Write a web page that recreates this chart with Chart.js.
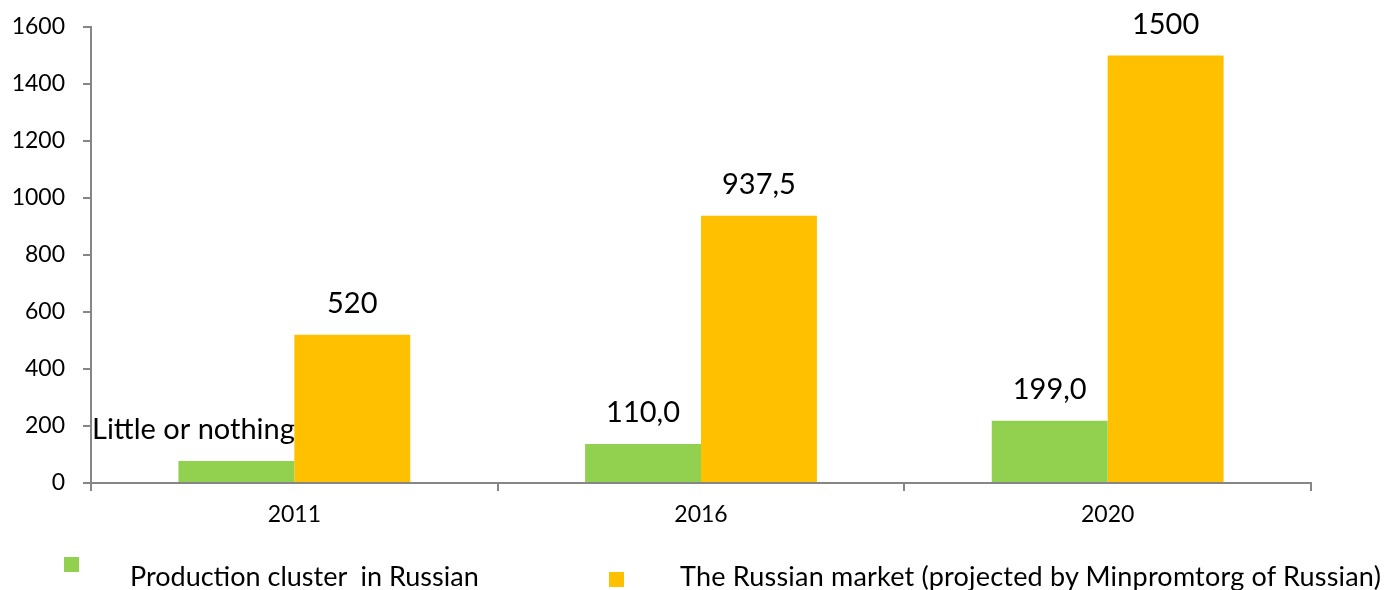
<!DOCTYPE html>
<html><head><meta charset="utf-8">
<script src="https://cdn.jsdelivr.net/npm/chart.js@4/dist/chart.umd.min.js"></script>
<style>
html,body{margin:0;padding:0;background:#fff;}
#wrap{position:relative;width:1385px;height:590px;}
canvas{position:absolute;left:0;top:0;}
.lg{position:absolute;font-family:Lato,"Open Sans",sans-serif;font-size:27px;color:#000;white-space:pre;line-height:1;}
.sq{position:absolute;width:15px;height:15px;}
</style></head>
<body><div id="wrap"><canvas id="c" width="1385" height="590"></canvas>
<div class="sq" style="left:64px;top:557px;background:#92D050"></div>
<div class="lg" style="left:130px;top:562px">Production cluster  in Russian</div>
<div class="sq" style="left:609px;top:572px;background:#FFC000"></div>
<div class="lg" style="left:680px;top:562px;letter-spacing:0.2px">The Russian market (projected by Minpromtorg of Russian)</div>
</div>
<script>
const categories = ['2011', '2016', '2020'];
const production = [77, 137, 218];
const market = [520, 937.5, 1500];
const productionLabels = ['Little or nothing', '110,0', '199,0'];
const marketLabels = ['520', '937,5', '1500'];
const seriesNames = ['Production cluster  in Russian', 'The Russian market (projected by Minpromtorg of Russian)'];
const yTicks = [0, 200, 400, 600, 800, 1000, 1200, 1400, 1600];

const labelPlugin = {
  id: 'barLabels',
  afterDatasetsDraw(chart) {
    const ctx = chart.ctx;
    ctx.save();
    ctx.font = '29px Lato, "Open Sans", sans-serif';
    ctx.fillStyle = '#000';
    ctx.textBaseline = 'middle';
    const sets = [productionLabels, marketLabels];
    sets.forEach((labels, di) => {
      const meta = chart.getDatasetMeta(di);
      meta.data.forEach((bar, i) => {
        let x = bar.x;
        ctx.textAlign = 'center';
        if (di === 0 && i === 0) {
          x = chart.chartArea.left + 1;
          ctx.textAlign = 'left';
        }
        ctx.fillText(labels[i], x, bar.y - 31);
      });
    });
    ctx.restore();
  }
};

new Chart(document.getElementById('c'), {
  type: 'bar',
  data: {
    labels: categories,
    datasets: [
      { label: seriesNames[0], data: production, backgroundColor: '#92D050', borderWidth: 0 },
      { label: seriesNames[1], data: market, backgroundColor: '#FFC000', borderWidth: 0 }
    ]
  },
  options: {
    responsive: false,
    animation: false,
    devicePixelRatio: 1,
    layout: { padding: { left: 0, right: 74, top: 27, bottom: 0 } },
    plugins: { legend: { display: false }, tooltip: { enabled: false } },
    datasets: { bar: { barPercentage: 1, categoryPercentage: 0.57 } },
    scales: {
      x: {
        grid: { offset: true, drawOnChartArea: false, drawTicks: true, tickLength: 8, color: '#868686', lineWidth: 2 },
        border: { color: '#868686', width: 2 },
        ticks: { color: '#000', font: { family: 'Lato, "Open Sans", sans-serif', size: 23 }, padding: 10 },
        afterFit(s) { s.height = 107; s.paddingLeft = 0; s.paddingRight = 0; }
      },
      y: {
        min: 0, max: 1600,
        afterBuildTicks(s) { s.ticks = yTicks.map(v => ({ value: v })); },
        grid: { drawOnChartArea: false, drawTicks: true, tickLength: 8, color: '#868686', lineWidth: 2 },
        border: { color: '#868686', width: 2 },
        ticks: { color: '#000', font: { family: 'Lato, "Open Sans", sans-serif', size: 23 }, padding: 18,
          callback: (v) => String(v) },
        afterFit(s) { s.width = 91; s.paddingTop = 0; s.paddingBottom = 0; }
      }
    }
  },
  plugins: [labelPlugin]
});
</script></body></html>
